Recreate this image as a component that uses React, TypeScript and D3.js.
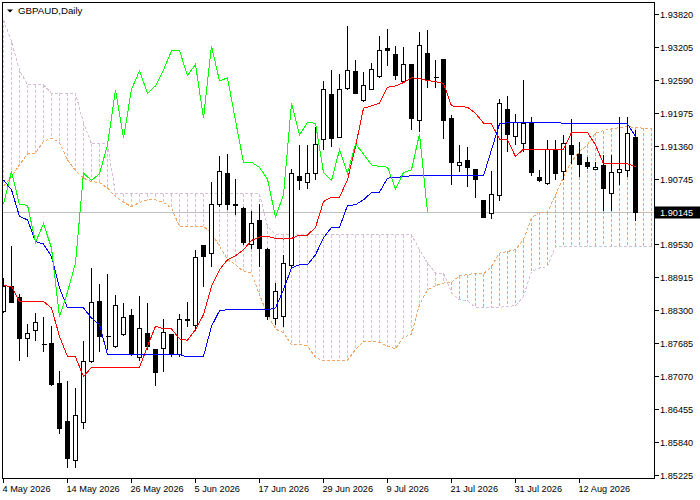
import { useEffect, useRef } from 'react';
import * as d3 from 'd3';

const symbolTitle = 'GBPAUD,Daily';
const lastPrice = 1.90145;

// right price scale labels
const priceTicks = [1.9382, 1.93205, 1.9259, 1.91975, 1.9136, 1.90745, 1.8953, 1.88915, 1.883, 1.87685, 1.8707, 1.86455, 1.8584, 1.85225];

// bottom time scale labels and the bar they sit on
const dateTicks = ['4 May 2026', '14 May 2026', '26 May 2026', '5 Jun 2026', '17 Jun 2026', '29 Jun 2026', '9 Jul 2026', '21 Jul 2026', '31 Jul 2026', '12 Aug 2026'];
const dateTickBars = [0, 8, 16, 24, 32, 40, 48, 56, 64, 72];

// daily OHLC, 80 bars
const open = [
  1.88292, 1.88758, 1.8856, 1.87778, 1.87927, 1.87677, 1.87685, 1.86945, 1.86237, 1.85505,
  1.86213, 1.87349, 1.88473, 1.87821, 1.87629, 1.87852, 1.88206, 1.87424, 1.87877, 1.87579,
  1.87603, 1.87858, 1.87485, 1.88124, 1.88031, 1.89516, 1.8938, 1.9028, 1.9087, 1.9028,
  1.90218, 1.89535, 1.89982, 1.89455, 1.8815, 1.88188, 1.89143, 1.90802, 1.90703, 1.9087,
  1.91504, 1.92329, 1.91541, 1.92454, 1.92763, 1.92217, 1.92435, 1.9267, 1.93199, 1.93074,
  1.92577, 1.92888, 1.9185, 1.93106, 1.92651, 1.92981, 1.91895, 1.9102, 1.911, 1.90945,
  1.90354, 1.90125, 1.90461, 1.9205, 1.91552, 1.91429, 1.91789, 1.90796, 1.90684, 1.91305,
  1.909, 1.91379, 1.91211, 1.91068, 1.90945, 1.91006, 1.90498, 1.90889, 1.90919, 1.91541,
];
const high = [
  1.8892, 1.89516, 1.88622, 1.88063, 1.88262, 1.88188, 1.88026, 1.87187, 1.87001, 1.86871,
  1.87746, 1.89101, 1.88808, 1.89007, 1.88616, 1.88454, 1.88337, 1.88585, 1.88454, 1.8759,
  1.8815, 1.8787, 1.88249, 1.88473, 1.89455, 1.89535, 1.90714, 1.91198, 1.91243, 1.90764,
  1.90243, 1.90168, 1.90312, 1.89479, 1.88832, 1.89348, 1.90951, 1.91398, 1.91398, 1.91739,
  1.92596, 1.92808, 1.9272, 1.93615, 1.92981, 1.92763, 1.92931, 1.93428, 1.93577, 1.93242,
  1.93229, 1.92907, 1.93508, 1.93553, 1.92994, 1.93, 1.9197, 1.91398, 1.91366, 1.9096,
  1.90373, 1.90913, 1.92255, 1.92311, 1.91988, 1.92609, 1.91925, 1.90932, 1.91491, 1.91504,
  1.91584, 1.91895, 1.91459, 1.9118, 1.91087, 1.91211, 1.91211, 1.91925, 1.91925, 1.91677,
];
const low = [
  1.88268, 1.88449, 1.87379, 1.87454, 1.87752, 1.87547, 1.86917, 1.86014, 1.85386, 1.85386,
  1.86112, 1.87336, 1.87547, 1.87579, 1.87616, 1.87839, 1.87476, 1.87379, 1.87579, 1.86913,
  1.87174, 1.87448, 1.87443, 1.88001, 1.87938, 1.88747, 1.8913, 1.90248, 1.90187, 1.90094,
  1.89535, 1.89473, 1.8913, 1.88137, 1.88044, 1.88013, 1.89106, 1.90559, 1.90591, 1.90746,
  1.91305, 1.91366, 1.91537, 1.92435, 1.92348, 1.92204, 1.92422, 1.92659, 1.92869, 1.92622,
  1.92562, 1.91677, 1.91645, 1.92473, 1.92473, 1.91523, 1.90666, 1.909, 1.90621, 1.90423,
  1.90038, 1.90032, 1.9036, 1.91273, 1.91398, 1.91273, 1.9082, 1.90714, 1.90652, 1.90746,
  1.90746, 1.91057, 1.90807, 1.90964, 1.90932, 1.90174, 1.90174, 1.90652, 1.90807, 1.89987,
];
const close = [
  1.88758, 1.8846, 1.87778, 1.87871, 1.88076, 1.87666, 1.86932, 1.86112, 1.85553, 1.86349,
  1.87349, 1.88449, 1.87815, 1.87815, 1.88393, 1.88169, 1.87485, 1.87964, 1.8764, 1.87156,
  1.8789, 1.87485, 1.88132, 1.88132, 1.89306, 1.89317, 1.90293, 1.909, 1.9028, 1.90274,
  1.89578, 1.89926, 1.89473, 1.88188, 1.88654, 1.89194, 1.9087, 1.90733, 1.90857, 1.91398,
  1.92422, 1.91523, 1.92435, 1.92776, 1.92361, 1.92497, 1.92795, 1.93149, 1.93155, 1.92689,
  1.92901, 1.91895, 1.93242, 1.9259, 1.92646, 1.9185, 1.91068, 1.91075, 1.90975, 1.90759,
  1.90051, 1.90466, 1.92175, 1.91584, 1.91813, 1.91802, 1.90882, 1.90733, 1.91305, 1.9087,
  1.91416, 1.91224, 1.91025, 1.90993, 1.90982, 1.90578, 1.90882, 1.90932, 1.91603, 1.90145,
];

// Ichimoku lines
const tenkan = [
  1.88771, 1.88758, 1.88478, 1.88478, 1.88478, 1.88478, 1.88355, 1.87826, 1.87454, 1.87443,
  1.87076, 1.87249, 1.87249, 1.87249, 1.87249, 1.87249, 1.87249, 1.87249, 1.8764, 1.88013,
  1.8797, 1.87964, 1.87778, 1.87752, 1.87951, 1.88231, 1.88758, 1.89069, 1.89255, 1.8933,
  1.89442, 1.89615, 1.89678, 1.89689, 1.89652, 1.89641, 1.89652, 1.89715, 1.89715, 1.89857,
  1.90341, 1.90423, 1.90423, 1.90746, 1.91366, 1.92081, 1.92124, 1.92175, 1.92473, 1.92497,
  1.92558, 1.92651, 1.92633, 1.92596, 1.92577, 1.92547, 1.92124, 1.92111, 1.921, 1.91988,
  1.91802, 1.91789, 1.91504, 1.91491, 1.9118, 1.91318, 1.91318, 1.91318, 1.91318, 1.91318,
  1.91318, 1.91627, 1.91627, 1.91627, 1.91398, 1.91044, 1.91044, 1.91044, 1.91044, 1.90993,
];
const kijun = [
  1.90746, 1.90559, 1.90062, 1.9, 1.89596, 1.89548, 1.89317, 1.88728, 1.88355, 1.88355,
  1.88355, 1.88169, 1.88044, 1.87485, 1.87485, 1.87485, 1.87485, 1.87485, 1.87485, 1.87485,
  1.87485, 1.87485, 1.87485, 1.87443, 1.87443, 1.87454, 1.88013, 1.88305, 1.88324, 1.88324,
  1.88324, 1.88324, 1.88324, 1.88324, 1.88355, 1.88696, 1.89101, 1.89162, 1.89162, 1.89348,
  1.89665, 1.89857, 1.89857, 1.90267, 1.9028, 1.90373, 1.90509, 1.90516, 1.90777, 1.90788,
  1.90807, 1.9082, 1.9082, 1.9082, 1.9082, 1.9082, 1.9082, 1.9082, 1.9082, 1.9082,
  1.9082, 1.91305, 1.91789, 1.91813, 1.91813, 1.91813, 1.91813, 1.91813, 1.91813, 1.91813,
  1.91802, 1.91802, 1.91802, 1.91802, 1.91789, 1.91789, 1.91789, 1.91789, 1.91789, 1.91552,
];
// senkou spans run two bars past the last candle
const spanA = [
  1.90621, 1.90807, 1.91025, 1.9123, 1.91243, 1.91459, 1.91523, 1.91441, 1.91118, 1.90919,
  1.90777, 1.90714, 1.90695, 1.90591, 1.90435, 1.90323, 1.90248, 1.90323, 1.90373, 1.90373,
  1.90323, 1.90218, 1.89876, 1.89876, 1.89876, 1.89876, 1.89753, 1.89503, 1.89255, 1.89162,
  1.89037, 1.89007, 1.88603, 1.88231, 1.87964, 1.8789, 1.87672, 1.87672, 1.87653, 1.87424,
  1.87379, 1.87379, 1.87379, 1.87379, 1.87579, 1.87733, 1.87733, 1.87715, 1.8764, 1.87592,
  1.87815, 1.87858, 1.88417, 1.88696, 1.88771, 1.88821, 1.88832, 1.88957, 1.88976, 1.89007,
  1.88989, 1.8913, 1.8938, 1.8941, 1.89442, 1.89628, 1.90032, 1.90144, 1.90144, 1.90466,
  1.90796, 1.91087, 1.91273, 1.91398, 1.91616, 1.91664, 1.91696, 1.9172, 1.91739, 1.9172,
  1.91709, 1.91709,
];
const spanB = [
  1.93726, 1.93322, 1.92795, 1.92515, 1.92515, 1.92515, 1.92361, 1.92361, 1.92361, 1.92361,
  1.91808, 1.91416, 1.91416, 1.91416, 1.90485, 1.90485, 1.90485, 1.90485, 1.90485, 1.90485,
  1.90485, 1.90485, 1.90485, 1.90485, 1.90485, 1.90485, 1.90485, 1.90485, 1.90485, 1.90485,
  1.90485, 1.90485, 1.90485, 1.89876, 1.89721, 1.89721, 1.89721, 1.89721, 1.89721, 1.89721,
  1.89721, 1.89721, 1.89721, 1.89721, 1.89721, 1.89721, 1.89721, 1.89721, 1.89721, 1.89721,
  1.89721, 1.89721, 1.89442, 1.89194, 1.89007, 1.89007, 1.88635, 1.8851, 1.88491, 1.88367,
  1.88367, 1.88367, 1.88367, 1.88385, 1.88398, 1.88572, 1.89037, 1.89101, 1.8913, 1.89503,
  1.89503, 1.89503, 1.89503, 1.89503, 1.89503, 1.89503, 1.89503, 1.89503, 1.89503, 1.89503,
  1.89503, 1.89503,
];
// chikou span is the close drawn 26 bars back
const chikouShift = 26;

const W = 700;
const H = 500;
const plot = { left: 2.5, right: 654.5, top: 2.5, bottom: 478.5 };
const font = '"Liberation Sans", Arial, sans-serif';

export default function App() {
  const ref = useRef<SVGSVGElement>(null);

  useEffect(() => {
    const svg = d3.select(ref.current);
    svg.selectAll('*').remove();

    // one bar every 8px, first bar on pixel column 3
    const x = d3.scaleLinear().domain([0, 1]).range([3.5, 11.5]);
    const y = d3.scaleLinear().domain([1.85175, 1.94062]).range([478.5, 2]);
    const px = (v: number) => Math.round(v - 0.5) + 0.5;

    svg.append('rect').attr('width', W).attr('height', H).attr('fill', '#ffffff');

    svg.append('defs').append('clipPath').attr('id', 'plot-clip')
      .append('rect')
      .attr('x', plot.left).attr('y', plot.top)
      .attr('width', plot.right - plot.left).attr('height', plot.bottom - plot.top);

    const g = svg.append('g').attr('clip-path', 'url(#plot-clip)').attr('shape-rendering', 'crispEdges');

    // bid line
    const yLast = px(y(lastPrice));
    g.append('line')
      .attr('x1', plot.left).attr('x2', plot.right)
      .attr('y1', yLast).attr('y2', yLast)
      .attr('stroke', '#c0c0c0');

    // cloud hatching between the spans
    g.append('g').selectAll('line')
      .data(d3.range(spanA.length))
      .join('line')
      .attr('x1', (i) => x(i)).attr('x2', (i) => x(i))
      .attr('y1', (i) => y(Math.max(spanA[i], spanB[i])))
      .attr('y2', (i) => y(Math.min(spanA[i], spanB[i])))
      .attr('stroke', (i) => (spanA[i] >= spanB[i] ? '#f4a460' : '#d8bfd8'))
      .attr('stroke-dasharray', '3,2');

    const line = d3.line<number>().x((_, i) => x(i)).y((d) => y(d));

    g.append('path').datum(spanB).attr('d', line)
      .attr('fill', 'none').attr('stroke', '#d8bfd8').attr('stroke-dasharray', '3,2');
    g.append('path').datum(spanA).attr('d', line)
      .attr('fill', 'none').attr('stroke', '#f4a460').attr('stroke-dasharray', '3,2');

    // candles
    const candles = g.append('g');
    d3.range(close.length).forEach((i) => {
      const cx = px(x(i));
      candles.append('line')
        .attr('x1', cx).attr('x2', cx)
        .attr('y1', px(y(high[i]))).attr('y2', px(y(low[i])))
        .attr('stroke', '#000');
      const top = px(y(Math.max(open[i], close[i])));
      const bot = px(y(Math.min(open[i], close[i])));
      if (bot - top < 1) {
        candles.append('line')
          .attr('x1', cx - 2).attr('x2', cx + 3)
          .attr('y1', top).attr('y2', top)
          .attr('stroke', '#000');
      } else {
        candles.append('rect')
          .attr('x', cx - 2).attr('y', top)
          .attr('width', 4).attr('height', bot - top)
          .attr('fill', close[i] >= open[i] ? '#ffffff' : '#000000')
          .attr('stroke', '#000');
      }
    });

    // tenkan, kijun, chikou
    g.append('path').datum(tenkan).attr('d', line)
      .attr('fill', 'none').attr('stroke', '#ff0000');
    g.append('path').datum(kijun).attr('d', line)
      .attr('fill', 'none').attr('stroke', '#0000ff');
    g.append('path').datum(close.slice(chikouShift)).attr('d', line)
      .attr('fill', 'none').attr('stroke', '#00ff00');

    // frame
    svg.append('rect')
      .attr('x', plot.left).attr('y', plot.top)
      .attr('width', plot.right - plot.left).attr('height', plot.bottom - plot.top)
      .attr('fill', 'none').attr('stroke', '#000').attr('shape-rendering', 'crispEdges');

    // price axis
    const pAxis = svg.append('g').attr('font-family', font).attr('font-size', 9.2).attr('fill', '#000');
    priceTicks.forEach((v) => {
      const ty = px(y(v));
      pAxis.append('line')
        .attr('x1', plot.right).attr('x2', plot.right + 4)
        .attr('y1', ty).attr('y2', ty)
        .attr('stroke', '#000').attr('shape-rendering', 'crispEdges');
      pAxis.append('text').attr('x', 660).attr('y', ty + 3.3).text(v.toFixed(5));
    });

    // last price tag
    svg.append('rect')
      .attr('x', 655).attr('y', yLast - 6)
      .attr('width', 45).attr('height', 12)
      .attr('fill', '#000');
    svg.append('text')
      .attr('x', 660).attr('y', yLast + 3.3)
      .attr('font-family', font).attr('font-size', 9.2).attr('fill', '#fff')
      .text(lastPrice.toFixed(5));

    // time axis
    const tAxis = svg.append('g').attr('font-family', font).attr('font-size', 9.2).attr('fill', '#000');
    dateTicks.forEach((label, k) => {
      const tx = px(x(dateTickBars[k]));
      tAxis.append('line')
        .attr('x1', tx).attr('x2', tx)
        .attr('y1', plot.bottom).attr('y2', plot.bottom + 4)
        .attr('stroke', '#000').attr('shape-rendering', 'crispEdges');
      tAxis.append('text').attr('x', tx - 1).attr('y', 492).text(label);
    });

    // title
    svg.append('path').attr('d', 'M7,9.5 L13,9.5 L10,12.5 Z').attr('fill', '#000');
    svg.append('text')
      .attr('x', 18).attr('y', 14)
      .attr('font-family', font).attr('font-size', 9.7).attr('fill', '#000')
      .text(symbolTitle);
  }, []);

  return (
    <div style={{ position: 'absolute', left: 0, top: 0 }}>
      <svg ref={ref} width={W} height={H} style={{ display: 'block' }} />
    </div>
  );
}
